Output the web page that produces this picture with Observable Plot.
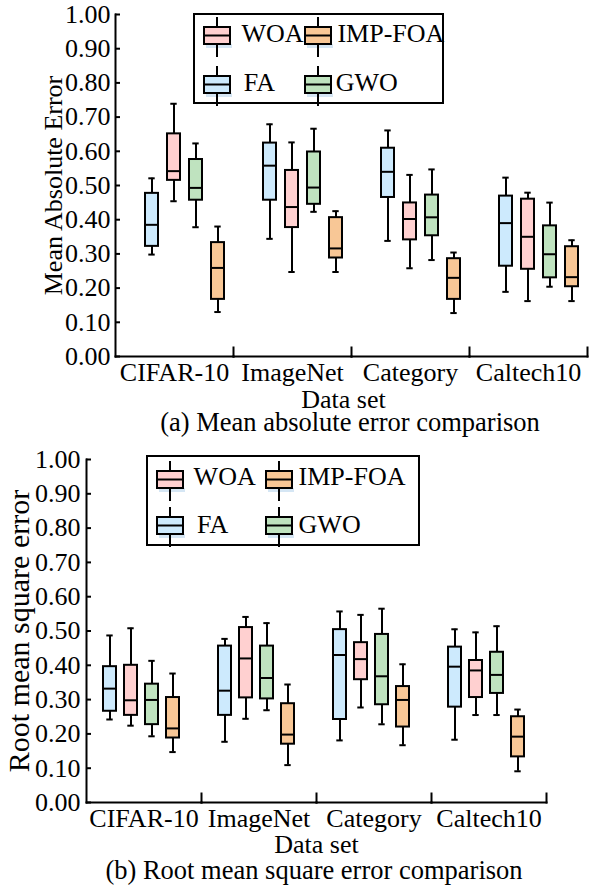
<!DOCTYPE html>
<html><head><meta charset="utf-8">
<script src="https://cdn.jsdelivr.net/npm/d3@7"></script>
<script src="https://cdn.jsdelivr.net/npm/@observablehq/plot@0.6"></script>
<style>
body{margin:0;background:#fff;}
#root{position:relative;width:590px;height:887px;font-family:"Liberation Serif","Times New Roman",serif;color:#000;overflow:hidden;}
.pane{position:absolute;left:0;}
.cap{position:absolute;font-size:26.5px;line-height:30px;text-align:center;white-space:nowrap;}
.legend{position:absolute;border:2px solid #000;box-sizing:border-box;background:#fff;}
.ltext{position:absolute;font-size:26px;line-height:26px;white-space:nowrap;}
.sw{position:absolute;}
</style></head><body><div id="root"></div>
<script>
const datasets = ["CIFAR-10", "ImageNet", "Category", "Caltech10"];
const algorithms = ["FA", "WOA", "GWO", "IMP-FOA"];
const colors = ["#cdeafd", "#ffd0d0", "#bfe3bf", "#f8c796"];
const yTicks = [0, 0.1, 0.2, 0.3, 0.4, 0.5, 0.6, 0.7, 0.8, 0.9, 1.0];

// Mean absolute error: order = dataset, then FA, WOA, GWO, IMP-FOA
const maeMin    = [0.298, 0.454, 0.378, 0.130,  0.344, 0.247, 0.423, 0.247,  0.338, 0.258, 0.282, 0.127,  0.189, 0.162, 0.204, 0.162];
const maeQ1     = [0.322, 0.515, 0.457, 0.167,  0.457, 0.377, 0.445, 0.288,  0.465, 0.341, 0.353, 0.167,  0.264, 0.255, 0.230, 0.204];
const maeMedian = [0.385, 0.542, 0.493, 0.259,  0.558, 0.437, 0.494, 0.316,  0.540, 0.402, 0.407, 0.230,  0.390, 0.350, 0.299, 0.232];
const maeQ3     = [0.477, 0.651, 0.576, 0.333,  0.624, 0.544, 0.598, 0.406,  0.609, 0.449, 0.472, 0.286,  0.469, 0.460, 0.382, 0.321];
const maeMax    = [0.521, 0.739, 0.623, 0.380,  0.679, 0.626, 0.666, 0.425,  0.661, 0.531, 0.547, 0.304,  0.523, 0.479, 0.450, 0.340];

// Root mean square error
const rmseMin    = [0.242, 0.224, 0.193, 0.147,  0.177, 0.244, 0.269, 0.109,  0.181, 0.277, 0.228, 0.167,  0.183, 0.255, 0.255, 0.091];
const rmseQ1     = [0.266, 0.254, 0.227, 0.188,  0.254, 0.305, 0.302, 0.170,  0.242, 0.358, 0.285, 0.220,  0.278, 0.306, 0.318, 0.133];
const rmseMedian = [0.332, 0.298, 0.299, 0.216,  0.326, 0.420, 0.363, 0.198,  0.430, 0.418, 0.368, 0.299,  0.396, 0.385, 0.372, 0.192];
const rmseQ3     = [0.396, 0.400, 0.345, 0.306,  0.456, 0.510, 0.456, 0.288,  0.504, 0.466, 0.490, 0.338,  0.453, 0.414, 0.438, 0.250];
const rmseMax    = [0.487, 0.508, 0.413, 0.376,  0.477, 0.541, 0.523, 0.344,  0.557, 0.547, 0.565, 0.403,  0.505, 0.496, 0.514, 0.271];

const root = document.getElementById("root");

function makeRows(mins, q1s, meds, q3s, maxs) {
  const rows = [];
  datasets.forEach((d, i) => algorithms.forEach((a, j) => {
    const k = i * algorithms.length + j;
    rows.push({dataset: d, algo: a, min: mins[k], q1: q1s[k], med: meds[k], q3: q3s[k], max: maxs[k]});
  }));
  return rows;
}

function panel(o) {
  const rows = makeRows(o.mins, o.q1s, o.meds, o.q3s, o.maxs);
  const plotH = o.height - o.marginTop - o.marginBottom;
  const k = {fx: "dataset", x: "algo"};
  return Plot.plot({
    width: 590, height: o.height,
    marginLeft: o.marginLeft, marginRight: o.marginRight, marginTop: o.marginTop, marginBottom: o.marginBottom,
    style: {fontFamily: "'Liberation Serif', 'Times New Roman', serif", fontSize: "26px", color: "#000", background: "transparent", overflow: "visible"},
    fx: {domain: datasets, padding: 0, axis: null},
    x: {domain: algorithms, paddingInner: o.paddingInner, paddingOuter: o.paddingOuter, align: o.align, axis: null},
    y: {domain: [0, 1], axis: null},
    color: {domain: algorithms, range: colors},
    marks: [
      Plot.ruleX(rows, {...k, y1: "min", y2: "max", stroke: "#000", strokeWidth: 2}),
      Plot.tickY(rows, {...k, y: "min", stroke: "#000", strokeWidth: 2, inset: 3.3}),
      Plot.tickY(rows, {...k, y: "max", stroke: "#000", strokeWidth: 2, inset: 3.3}),
      Plot.barY(rows, {...k, y1: "q1", y2: "q3", fill: "algo", stroke: "#000", strokeWidth: 2}),
      Plot.tickY(rows, {...k, y: "med", stroke: "#000", strokeWidth: 2}),
      Plot.frame({anchor: "bottom", strokeWidth: 2}),
      Plot.frame({anchor: "left", facetAnchor: "left", strokeWidth: 2}),
      Plot.frame({anchor: "right", insetTop: plotH - 9, strokeWidth: 2}),
      Plot.axisY({ticks: yTicks, tickFormat: d3.format(".2f"), tickSize: -5, tickPadding: o.tickPadding, strokeWidth: 2,
        label: o.yLabel, labelAnchor: "center", labelArrow: "none", labelOffset: o.labelOffset}),
      Plot.axisFx({anchor: "bottom", tickSize: 0, tickPadding: 6, label: null}),
      Plot.text(["Data set"], {frameAnchor: "bottom", facet: "super", lineAnchor: "middle", textAnchor: "middle",
        dy: o.xLabelDy, dx: o.xLabelDx, fill: "#000"})
    ]
  });
}

function swatch(color) {
  const ns = "http://www.w3.org/2000/svg";
  const svg = document.createElementNS(ns, "svg");
  svg.setAttribute("width", 34); svg.setAttribute("height", 40);
  svg.innerHTML =
    `<rect x="3" y="27" width="26" height="4" fill="#d5e6f4"/>` +
    `<line x1="14" y1="0" x2="14" y2="40" stroke="#000" stroke-width="2"/>` +
    `<rect x="1" y="10" width="26" height="17" fill="${color}" stroke="#000" stroke-width="2"/>` +
    `<line x1="1" y1="18.5" x2="27" y2="18.5" stroke="#000" stroke-width="2"/>`;
  return svg;
}

function legend(L) {
  const box = document.createElement("div");
  box.className = "legend";
  Object.assign(box.style, {left: L.left + "px", top: L.top + "px", width: L.width + "px", height: L.height + "px"});
  L.entries.forEach(e => {
    const sw = swatch(colors[algorithms.indexOf(e.algo)]);
    sw.setAttribute("class", "sw");
    sw.style.left = (e.sx - 1 - 2) + "px";
    sw.style.top = (e.boxTop - 10 - 2) + "px";
    box.appendChild(sw);
    const t = document.createElement("div");
    t.className = "ltext";
    t.textContent = e.algo;
    t.style.left = (e.tx - 2) + "px";
    t.style.top = (e.base - 21.8 - 2) + "px";
    box.appendChild(t);
  });
  root.appendChild(box);
}

function place(el, top) {
  const d = document.createElement("div");
  d.className = "pane"; d.style.top = top + "px";
  d.appendChild(el); root.appendChild(d);
}
function caption(text, top, center) {
  const d = document.createElement("div");
  d.className = "cap"; d.textContent = text;
  d.style.top = top + "px"; d.style.left = (center - 300) + "px"; d.style.width = "600px";
  root.appendChild(d);
}

place(panel({mins: maeMin, q1s: maeQ1, meds: maeMedian, q3s: maeQ3, maxs: maeMax,
  yLabel: "Mean Absolute Error",
  height: 415, marginTop: 14, marginBottom: 59, marginLeft: 115, marginRight: 3,
  paddingInner: 0.41, paddingOuter: 0.82, align: 0.77, tickPadding: 10, labelOffset: 71.5, xLabelDy: 43.5, xLabelDx: -8}), 0);
caption("(a) Mean absolute error comparison", 407, 350);

place(panel({mins: rmseMin, q1s: rmseQ1, meds: rmseMedian, q3s: rmseQ3, maxs: rmseMax,
  yLabel: "Root mean square error",
  height: 412, marginTop: 19, marginBottom: 50, marginLeft: 85, marginRight: 44,
  paddingInner: 0.387, paddingOuter: 0.85, align: 0.44, tickPadding: 11, labelOffset: 78.5, xLabelDy: 42.5, xLabelDx: 0}), 440);
caption("(b) Root mean square error comparison", 855, 314);

// the y-axis title of panel (b) is drawn wider in the reference
document.querySelectorAll(".pane svg")[1].querySelectorAll("text").forEach(t => {
  if (t.textContent === "Root mean square error") t.setAttribute("font-size", 30);
});

legend({left: 193, top: 13, width: 251, height: 91, entries: [
  {algo: "WOA", sx: 11, tx: 48.4, boxTop: 14, base: 30},
  {algo: "IMP-FOA", sx: 112, tx: 144.4, boxTop: 14, base: 30},
  {algo: "FA", sx: 11, tx: 50.7, boxTop: 62.5, base: 79},
  {algo: "GWO", sx: 112, tx: 142.7, boxTop: 62.5, base: 79}
]});
legend({left: 146, top: 455, width: 274, height: 91, entries: [
  {algo: "WOA", sx: 11, tx: 47.6, boxTop: 15.5, base: 31},
  {algo: "IMP-FOA", sx: 120, tx: 152.6, boxTop: 15.5, base: 31},
  {algo: "FA", sx: 11, tx: 51, boxTop: 62, base: 79},
  {algo: "GWO", sx: 120, tx: 152.6, boxTop: 62, base: 79}
]});
</script></body></html>
